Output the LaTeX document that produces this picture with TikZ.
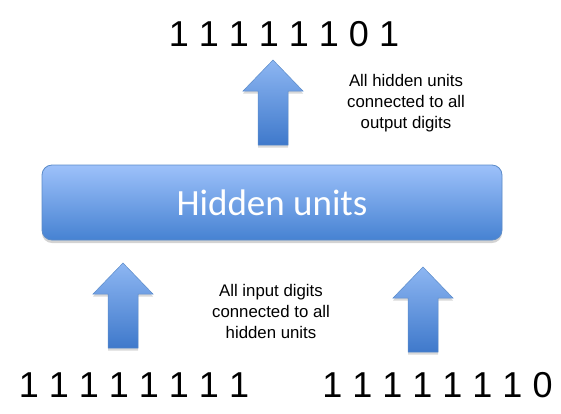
\documentclass[tikz,border=0pt]{standalone}
\usepackage{fontspec}
\setmainfont{Liberation Sans}
\newfontfamily\calfont{Carlito}
\usetikzlibrary{shadows}
\definecolor{boxtop}{HTML}{9DC1FA}
\definecolor{boxbot}{HTML}{4682D2}
\definecolor{boxline}{HTML}{5B8BC9}
\definecolor{arrtop}{HTML}{8DB6F2}
\definecolor{arrbot}{HTML}{3F79CB}
\tikzset{
  digits/.style={anchor=base, inner sep=0pt, font=\fontsize{36}{43}\selectfont},
  label/.style={align=center, inner sep=0pt, font=\fontsize{16.8}{21}\selectfont},
  hiddenbox/.style={rounded corners=10pt, draw=boxline, line width=0.8pt,
    top color=boxtop, bottom color=boxbot, minimum width=460pt, minimum height=75pt,
    text=white, font=\calfont\fontsize{37}{40}\selectfont,
    drop shadow={shadow xshift=0pt, shadow yshift=-3pt, opacity=0.35}},
  arrowfill/.style={draw=boxline, line width=0.5pt, top color=arrtop, bottom color=arrbot,
    drop shadow={shadow xshift=0pt, shadow yshift=-2.5pt, opacity=0.3}},
  uparr/.pic={\path[arrowfill] (-15,85) -- (-15,31) -- (-30,31) -- (0,0) -- (30,31) -- (15,31) -- (15,85) -- cycle;}
}
\begin{document}
\begin{tikzpicture}[x=1pt, y=-1pt]
\useasboundingbox (0,0) rectangle (561,413);
\node[hiddenbox] (hidden) at (272,202.5) {Hidden units};
\pic (aout) at (273,60) {uparr};
\pic (ainl) at (123,263) {uparr};
\pic (ainr) at (423,267) {uparr};
\node[digits] (out) at (284,46) {1 1 1 1 1 1 0 1};
\node[digits] (inl) at (134,397) {1 1 1 1 1 1 1 1};
\node[digits] (inr) at (437.5,397) {1 1 1 1 1 1 1 0};
\node[label] (lout) at (406,103) {All hidden units\\connected to all\\output digits};
\node[label] (lin) at (271,311) {All input digits\\connected to all\\hidden units};
\end{tikzpicture}
\end{document}
